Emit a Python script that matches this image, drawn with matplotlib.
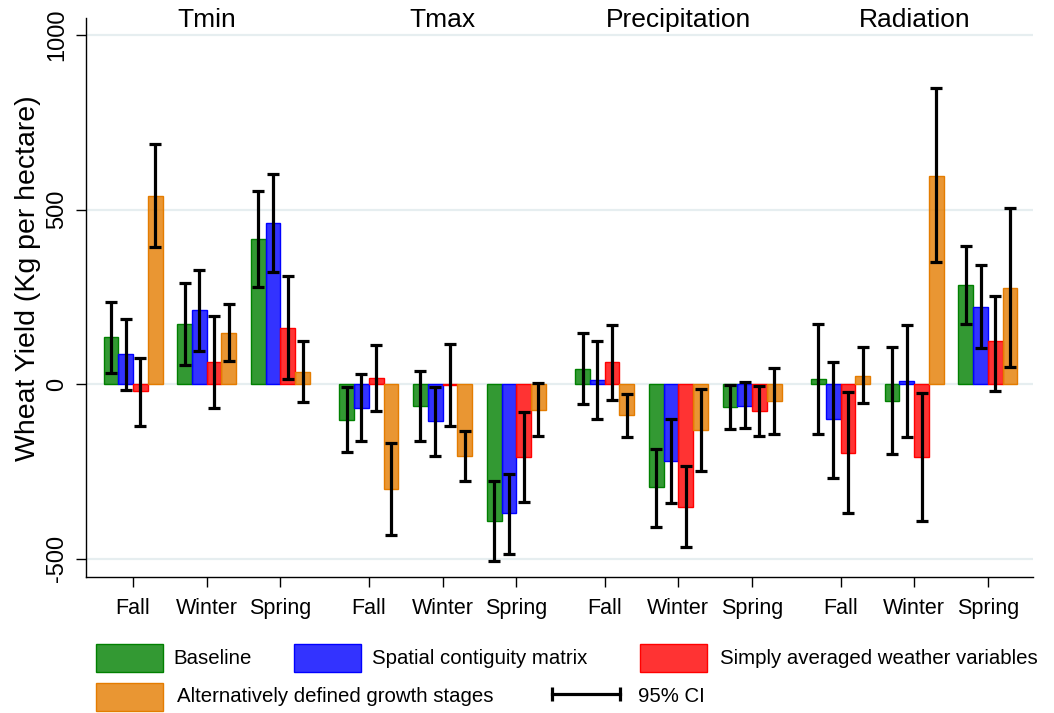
import numpy as np
import matplotlib
matplotlib.use('Agg')
import matplotlib.pyplot as plt
import matplotlib.transforms as mtransforms
from matplotlib.patches import Rectangle
from matplotlib.lines import Line2D
from matplotlib.colors import to_rgba

plt.rcParams['font.family'] = ['Liberation Sans', 'DejaVu Sans']

# weather variable panels and growth stages
variables = ['Tmin', 'Tmax', 'Precipitation', 'Radiation']
seasons = ['Fall', 'Winter', 'Spring']

# order: Tmin F,W,S | Tmax F,W,S | Precip F,W,S | Radiation F,W,S
baseline = [134, 171, 417, -102, -63, -393, 42, -296, -67, 14, -48, 283]
baseline_lo = [32, 55, 277, -195, -163, -508, -58, -411, -129, -142, -201, 171]
baseline_hi = [235, 289, 553, -9, 36, -278, 146, -185, -4, 173, 105, 395]

spatial = [86, 211, 462, -69, -105, -370, 12, -220, -62, -101, 9, 221]
spatial_lo = [-16, 95, 321, -163, -205, -488, -99, -341, -127, -269, -151, 103]
spatial_hi = [187, 327, 603, 28, -9, -257, 122, -99, 6, 64, 168, 342]

averaged = [-21, 63, 162, 18, -3, -208, 62, -352, -76, -198, -209, 122]
averaged_lo = [-119, -68, 14, -78, -119, -338, -47, -468, -148, -370, -393, -19]
averaged_hi = [76, 195, 310, 113, 116, -79, 170, -235, -5, -24, -26, 251]

growth = [538, 146, 35, -301, -206, -74, -89, -133, -50, 24, 597, 276]
growth_lo = [392, 66, -51, -434, -277, -149, -153, -248, -144, -54, 349, 48]
growth_hi = [687, 229, 123, -169, -135, 2, -28, -15, 45, 105, 849, 505]

labels = ['Baseline', 'Spatial contiguity matrix',
          'Simply averaged weather variables',
          'Alternatively defined growth stages']
colors = ['#008000', '#0000ff', '#ff0000', '#e47c00']

series = [(baseline, baseline_lo, baseline_hi),
          (spatial, spatial_lo, spatial_hi),
          (averaged, averaged_lo, averaged_hi),
          (growth, growth_lo, growth_hi)]

fig = plt.figure(figsize=(10.54, 7.13), dpi=100)
ax = fig.add_axes([0.0816, 0.1912, 0.8985, 0.7836])

# group centres: 5 units between seasons, 6 extra between variables
centres = np.array([v*16 + s*5 for v in range(len(variables))
                    for s in range(len(seasons))], dtype=float)
offsets = [-1.5, -0.5, 0.5, 1.5]

for k, (mean, lo, hi) in enumerate(series):
    mean = np.array(mean)
    xs = centres + offsets[k]
    ax.bar(xs, mean, width=1.0, facecolor=to_rgba(colors[k], 0.8),
           edgecolor=colors[k], linewidth=1.0, zorder=2)
    yerr = [mean - np.array(lo), np.array(hi) - mean]
    ax.errorbar(xs, mean, yerr=yerr, fmt='none', ecolor='black',
                elinewidth=2.3, capsize=4.2, capthick=2.3, zorder=3)

ax.set_xlim(-3.19, 61.06)
ax.set_ylim(-552, 1049)
ax.set_yticks([-500, 0, 500, 1000])
ax.set_yticklabels(['-500', '0', '500', '1000'], rotation=90, va='center')
ax.yaxis.grid(True, color='#e6eef0', linewidth=1.6, zorder=0)
ax.set_axisbelow(True)
ax.set_xticks(centres)
ax.set_xticklabels(seasons * len(variables))
ax.tick_params(axis='x', length=7, width=1, labelsize=15.5, pad=8)
ax.tick_params(axis='y', length=7, width=1, labelsize=17, pad=6)
for side in ['top', 'right']:
    ax.spines[side].set_visible(False)
for side in ['left', 'bottom']:
    ax.spines[side].set_linewidth(1.0)

# variable titles across the top
trans = mtransforms.blended_transform_factory(ax.transData, fig.transFigure)
for v, name in enumerate(variables):
    ax.text(v*16 + 5, 1 - 20/713, name, transform=trans, ha='center',
            va='center', fontsize=19)

fig.text(28/1054, 1 - 278/713, 'Wheat Yield (Kg per hectare)', rotation=90,
         ha='center', va='center', fontsize=20.5)

# legend drawn by hand to follow the original layout
W, H = 1054.0, 713.0
def patch(x0, y0, c):
    fig.add_artist(Rectangle((x0/W, 1 - (y0 + 28)/H), 67/W, 28/H,
                             transform=fig.transFigure,
                             facecolor=to_rgba(c, 0.8), edgecolor=c,
                             linewidth=1.0))

patch(96, 644, colors[0])
fig.text(173/W, 1 - 658/H, labels[0], va='center', fontsize=14.7)
patch(294, 644, colors[1])
fig.text(372/W, 1 - 658/H, labels[1], va='center', fontsize=14.7)
patch(640, 644, colors[2])
fig.text(720/W, 1 - 658/H, labels[2], va='center', fontsize=14.7)
patch(96, 683, colors[3])
fig.text(177/W, 1 - 697/H, labels[3], va='center', fontsize=14.7)

fig.add_artist(Line2D([552/W, 620/W], [1 - 694/H, 1 - 694/H],
                      transform=fig.transFigure, color='black', linewidth=2.3,
                      marker='|', markersize=10, markeredgewidth=2.3))
fig.text(638/W, 1 - 697/H, '95% CI', va='center', fontsize=14.7)

fig.savefig('out.png', dpi=100)
